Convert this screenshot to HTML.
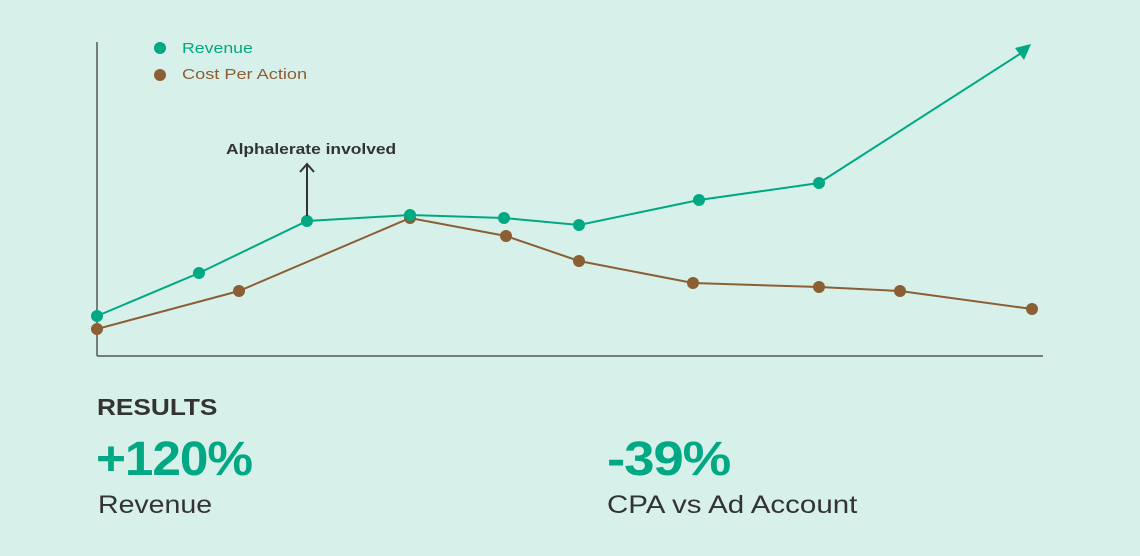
<!DOCTYPE html><html><head><style>
body{margin:0;width:1140px;height:556px;background:#d7f1ea;font-family:"Liberation Sans",sans-serif;overflow:hidden;position:relative}
.t{position:absolute;white-space:nowrap;transform-origin:0 50%}
</style></head><body>
<svg width="1140" height="556" style="position:absolute;left:0;top:0">
<line x1="97" y1="42" x2="97" y2="356" stroke="#555" stroke-width="1.5"/>
<line x1="97" y1="356" x2="1043" y2="356" stroke="#555" stroke-width="1.5"/>
<polyline fill="none" stroke="#8b5e34" stroke-width="2" points="97,329 239,291 410,218 506,236 579,261 693,283 819,287 900,291 1032,309"/>
<polyline fill="none" stroke="#00a884" stroke-width="2" points="97,316 199,273 307,221 410,215 504,218 579,225 699,200 819,183 1026,50"/>
<polygon points="1031,44 1015,48 1024,60" fill="#00a884"/>
<g fill="#8b5e34"><circle cx="97" cy="329" r="6"/><circle cx="239" cy="291" r="6"/><circle cx="410" cy="218" r="6"/><circle cx="506" cy="236" r="6"/><circle cx="579" cy="261" r="6"/><circle cx="693" cy="283" r="6"/><circle cx="819" cy="287" r="6"/><circle cx="900" cy="291" r="6"/><circle cx="1032" cy="309" r="6"/><circle cx="160" cy="75" r="6"/></g>
<g fill="#00a884"><circle cx="97" cy="316" r="6"/><circle cx="199" cy="273" r="6"/><circle cx="307" cy="221" r="6"/><circle cx="410" cy="215" r="6"/><circle cx="504" cy="218" r="6"/><circle cx="579" cy="225" r="6"/><circle cx="699" cy="200" r="6"/><circle cx="819" cy="183" r="6"/><circle cx="160" cy="48" r="6"/></g>
<line x1="307" y1="216" x2="307" y2="165" stroke="#333" stroke-width="2"/>
<polyline points="300,172 307,164 314,172" fill="none" stroke="#333" stroke-width="2"/>
</svg>
<div class="t" style="left:182px;top:40px;font-size:15px;color:#00a884;transform:scaleX(1.18)">Revenue</div>
<div class="t" style="left:182px;top:66px;font-size:15px;color:#8b5e34;transform:scaleX(1.21)">Cost Per Action</div>
<div class="t" style="left:226px;top:141px;font-size:15px;font-weight:bold;color:#333;transform:scaleX(1.16)">Alphalerate involved</div>
<div class="t" style="left:97px;top:394px;font-size:23px;font-weight:bold;color:#333;transform:scaleX(1.14)">RESULTS</div>
<div class="t" style="left:96px;top:432px;font-size:48px;font-weight:bold;color:#00a884;letter-spacing:-1px;transform:scaleX(1.07)">+120%</div>
<div class="t" style="left:98px;top:491px;font-size:25px;color:#333;transform:scaleX(1.14)">Revenue</div>
<div class="t" style="left:607px;top:432px;font-size:48px;font-weight:bold;color:#00a884;letter-spacing:-1px;transform:scaleX(1.14)">-39%</div>
<div class="t" style="left:607px;top:491px;font-size:25px;color:#333;transform:scaleX(1.18)">CPA vs Ad Account</div>
</body></html>
